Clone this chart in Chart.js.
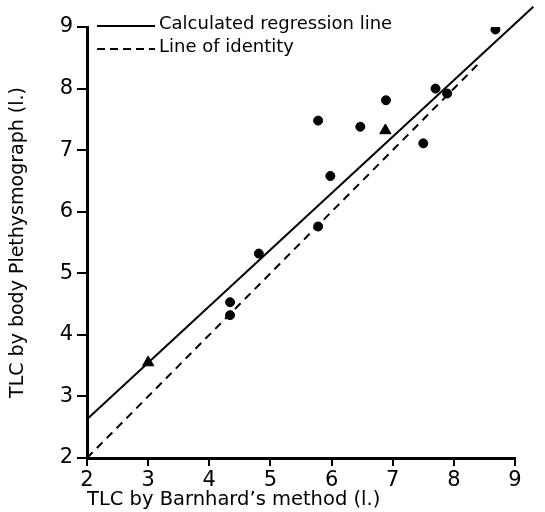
<!DOCTYPE html>
<html>
<head>
<meta charset="utf-8">
<script src="https://cdn.jsdelivr.net/npm/chart.js@4/dist/chart.umd.min.js"></script>
<style>
  html, body { margin: 0; padding: 0; background: #fff; }
  #wrap { width: 545px; height: 512px; }
</style>
</head>
<body>
<div id="wrap"><canvas id="chart"></canvas></div>
<script>
// TLC: body plethysmograph vs Barnhard's method, scanned figure redraw.

const FONT = "'DejaVu Sans', sans-serif";

// circles (x = Barnhard, y = plethysmograph)
const DOT_X = [8.68, 7.70, 7.89, 6.89, 5.78, 6.47, 7.50, 5.98, 4.81, 4.34, 4.34, 5.78];
const DOT_Y = [8.96, 8.00, 7.92, 7.81, 7.48, 7.38, 7.11, 6.58, 5.32, 4.53, 4.32, 5.76];

// triangles
const TRI_X = [3.00, 6.88];
const TRI_Y = [3.55, 7.32];

// line endpoints
const REG_X = [2.0, 9.3];
const REG_Y = [2.63, 9.33];
const IDENT_X = [2.0, 8.4];
const IDENT_Y = [2.0, 8.4];

const TICKS = [2, 3, 4, 5, 6, 7, 8, 9];

const LEGEND = [
  { label: "Calculated regression line", dash: [] },
  { label: "Line of identity", dash: [8, 5] },
];

const pts = (xs, ys) => xs.map((x, i) => ({ x, y: ys[i] }));

// legend drawn inside the plot, top-left, like the original
const legendInside = {
  id: "legendInside",
  afterDraw(chart) {
    const ctx = chart.ctx;
    const left = chart.chartArea.left + 10;
    ctx.save();
    ctx.strokeStyle = "#000";
    ctx.fillStyle = "#000";
    ctx.lineWidth = 2;
    ctx.font = "18px " + FONT;
    ctx.textBaseline = "middle";
    LEGEND.forEach((item, i) => {
      const y = 26 + i * 23;
      ctx.setLineDash(item.dash);
      ctx.beginPath();
      ctx.moveTo(left, y);
      ctx.lineTo(left + 58, y);
      ctx.stroke();
      ctx.setLineDash([]);
      ctx.fillText(item.label, left + 62, y - 2);
    });
    ctx.restore();
  },
};

const axisCommon = {
  type: "linear",
  min: 2,
  max: 9,
  border: { display: true, color: "#000", width: 3 },
  grid: { display: true, drawOnChartArea: false, drawTicks: true, tickLength: 8, color: "#000", lineWidth: 2 },
  ticks: {
    stepSize: 1,
    color: "#000",
    font: { family: FONT, size: 21 },
    callback: (v) => (TICKS.includes(v) ? String(v) : ""),
  },
};

new Chart(document.getElementById("chart"), {
  type: "scatter",
  data: {
    datasets: [
      {
        label: "dots",
        data: pts(DOT_X, DOT_Y),
        pointStyle: "circle",
        pointRadius: 4.5,
        backgroundColor: "#000",
        borderColor: "#000",
      },
      {
        label: "triangles",
        data: pts(TRI_X, TRI_Y),
        pointStyle: "triangle",
        pointRadius: 6.5,
        backgroundColor: "#000",
        borderColor: "#000",
      },
      {
        label: LEGEND[0].label,
        data: pts(REG_X, REG_Y),
        showLine: true,
        pointRadius: 0,
        borderColor: "#000",
        borderWidth: 2,
        clip: false,
      },
      {
        label: LEGEND[1].label,
        data: pts(IDENT_X, IDENT_Y),
        showLine: true,
        pointRadius: 0,
        borderColor: "#000",
        borderWidth: 2,
        borderDash: [8, 6],
        clip: false,
      },
    ],
  },
  options: {
    responsive: true,
    maintainAspectRatio: false,
    animation: false,
    layout: { padding: { top: 27, right: 30, left: 0, bottom: 0 } },
    plugins: { legend: { display: false }, tooltip: { enabled: false } },
    scales: {
      x: {
        ...axisCommon,
        ticks: { ...axisCommon.ticks, padding: 2 },
        title: {
          display: true,
          text: "TLC by Barnhard\u2019s method (l.)",
          align: "start",
          color: "#000",
          font: { family: FONT, size: 19.5 },
          padding: { top: 0, bottom: 0 },
        },
        afterFit(scale) { scale.height = 54; },
      },
      y: {
        ...axisCommon,
        grid: { ...axisCommon.grid, tickLength: 10 },
        ticks: { ...axisCommon.ticks, padding: 4 },
        title: {
          display: true,
          text: "TLC by body Plethysmograph (l.)",
          color: "#000",
          font: { family: FONT, size: 19 },
          padding: { top: 7, bottom: 0 },
        },
        afterFit(scale) { scale.width = 87; },
      },
    },
  },
  plugins: [legendInside],
});
</script>
</body>
</html>
